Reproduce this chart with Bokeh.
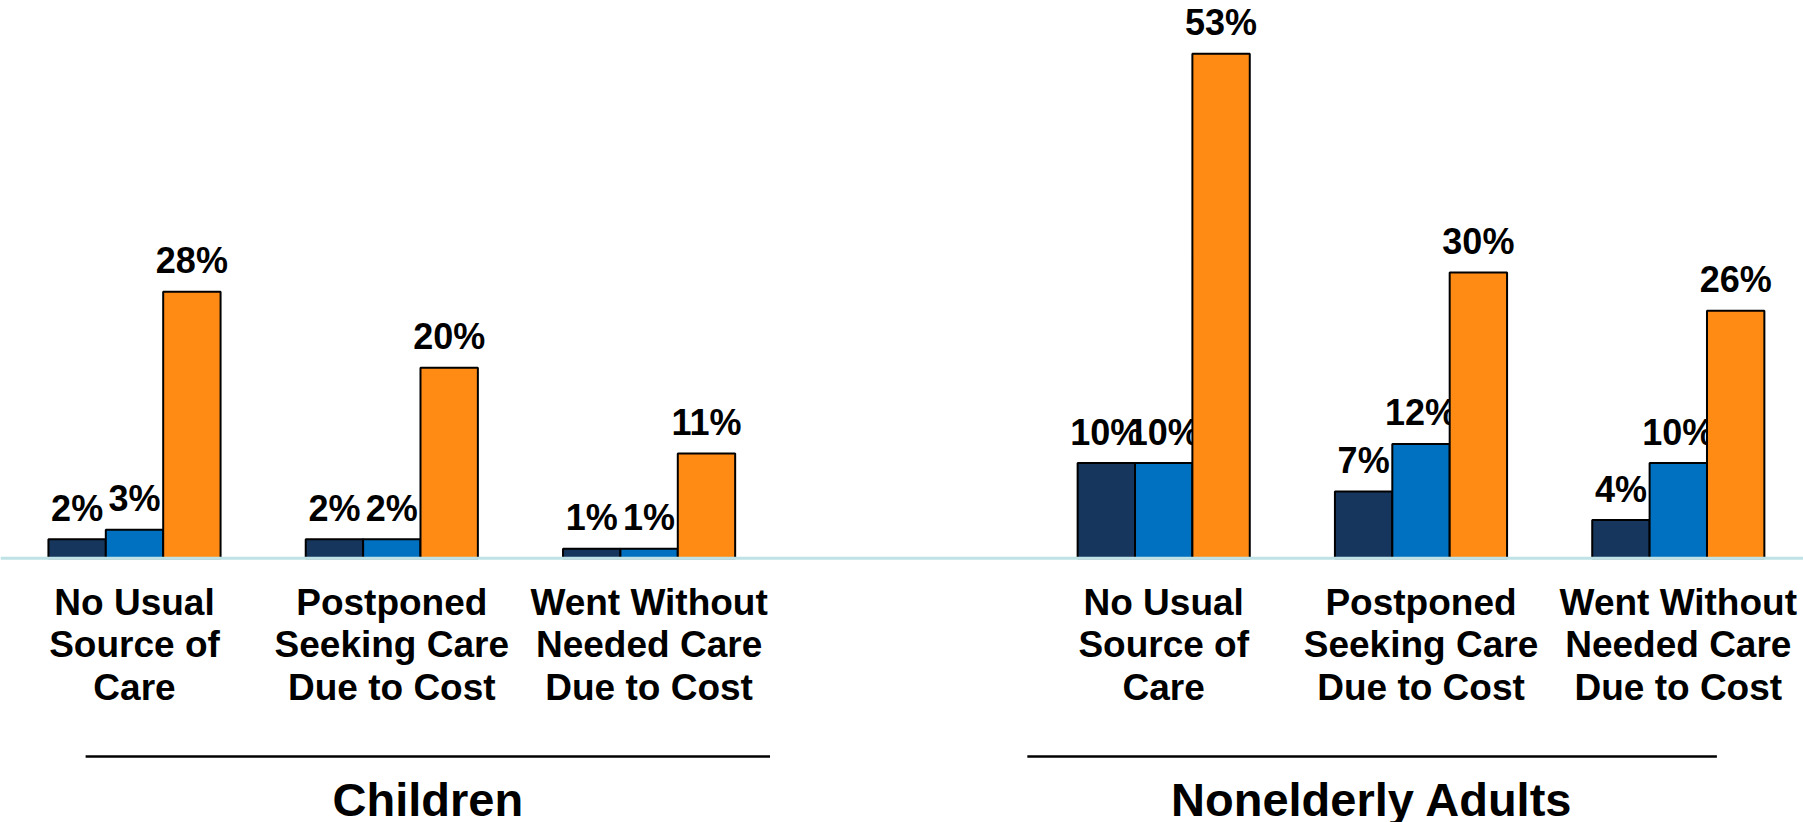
from bokeh.plotting import figure
from bokeh.models import ColumnDataSource, Range1d, Span
from bokeh.core.properties import value
from bokeh.embed import file_html
from bokeh.resources import INLINE

# ---- data -------------------------------------------------------------
groups = ["Children", "Nonelderly Adults"]
category_lines = [
    ["No Usual", "Source of", "Care"],
    ["Postponed", "Seeking Care", "Due to Cost"],
    ["Went Without", "Needed Care", "Due to Cost"],
]
series_names = ["Private", "Public", "Uninsured"]

children_private = [2, 2, 1]
children_public = [3, 2, 1]
children_uninsured = [28, 20, 11]

adults_private = [10, 7, 4]
adults_public = [10, 12, 10]
adults_uninsured = [53, 30, 26]

# ---- style ------------------------------------------------------------
COLORS = ["#17365D", "#0070C0", "#FF8A14"]
FONT = value("Liberation Sans")
BAR_W = 0.223          # width of one bar, in category slots
GROUP_GAP = 4          # slot distance between the first category of each group
PX_PER_PCT = 9.52
TEXT_LIFT = 13         # compensates for where the renderer puts the baseline

W, H = 1803, 822
X0_PX, SLOT_PX = 134.0, 257.3
BASE_PX = 557.7

x_range = Range1d(-X0_PX / SLOT_PX, (W - X0_PX) / SLOT_PX)
y_range = Range1d(-(H - BASE_PX) / PX_PER_PCT, BASE_PX / PX_PER_PCT)

p = figure(width=W, height=H, x_range=x_range, y_range=y_range,
           output_backend="svg", toolbar_location=None,
           min_border=0, outline_line_color=None)
p.axis.visible = False
p.grid.visible = False
p.background_fill_color = "white"

group_values = [
    [children_private, children_public, children_uninsured],
    [adults_private, adults_public, adults_uninsured],
]

# ---- bars + value labels ---------------------------------------------
for s, name in enumerate(series_names):
    xs, tops, labels = [], [], []
    for g, series in enumerate(group_values):
        for c, v in enumerate(series[s]):
            xs.append(g * GROUP_GAP + c + (s - 1) * BAR_W)
            tops.append(v)
            labels.append(f"{v}%")
    src = ColumnDataSource(dict(x=xs, top=tops, label=labels))
    p.vbar(x="x", top="top", bottom=0, width=BAR_W, source=src,
           fill_color=COLORS[s], line_color="black", line_width=2)
    p.text(x="x", y="top", text="label", source=src,
           text_font=FONT, text_font_style="bold", text_font_size="36px",
           text_color="black", text_align="center",
           text_baseline="alphabetic", y_offset=-18 - TEXT_LIFT)

# baseline
p.add_layout(Span(location=0, dimension="width",
                  line_color="#BFE2E7", line_width=3))

# ---- category labels (three lines under each group of bars) ----------
cx, cy, ctext, coff = [], [], [], []
for g in range(len(groups)):
    for c, lines in enumerate(category_lines):
        for i, line in enumerate(lines):
            cx.append(g * GROUP_GAP + c)
            cy.append(0)
            ctext.append(line)
            coff.append(57 - TEXT_LIFT + i * 42.5)
p.text(x="x", y="y", text="t", y_offset="off",
       source=ColumnDataSource(dict(x=cx, y=cy, t=ctext, off=coff)),
       text_font=FONT, text_font_style="bold", text_font_size="37px",
       text_color="black", text_align="center", text_baseline="alphabetic")

# ---- group rules and titles ------------------------------------------
rule_spans = [(-0.19, 2.47), (3.47, 6.15)]
rule_y = -(756 - BASE_PX) / PX_PER_PCT
title_y = -(812 - BASE_PX) / PX_PER_PCT
p.segment(x0=[a for a, b in rule_spans], x1=[b for a, b in rule_spans],
          y0=[rule_y] * 2, y1=[rule_y] * 2, line_color="black", line_width=2.5)
p.text(x=[(a + b) / 2 for a, b in rule_spans], y=[title_y] * 2, text=groups,
       text_font=FONT, text_font_style="bold", text_font_size="47px",
       text_color="black", text_align="center", text_baseline="alphabetic",
       y_offset=-TEXT_LIFT)

open("out.html", "w").write(file_html(p, INLINE))
